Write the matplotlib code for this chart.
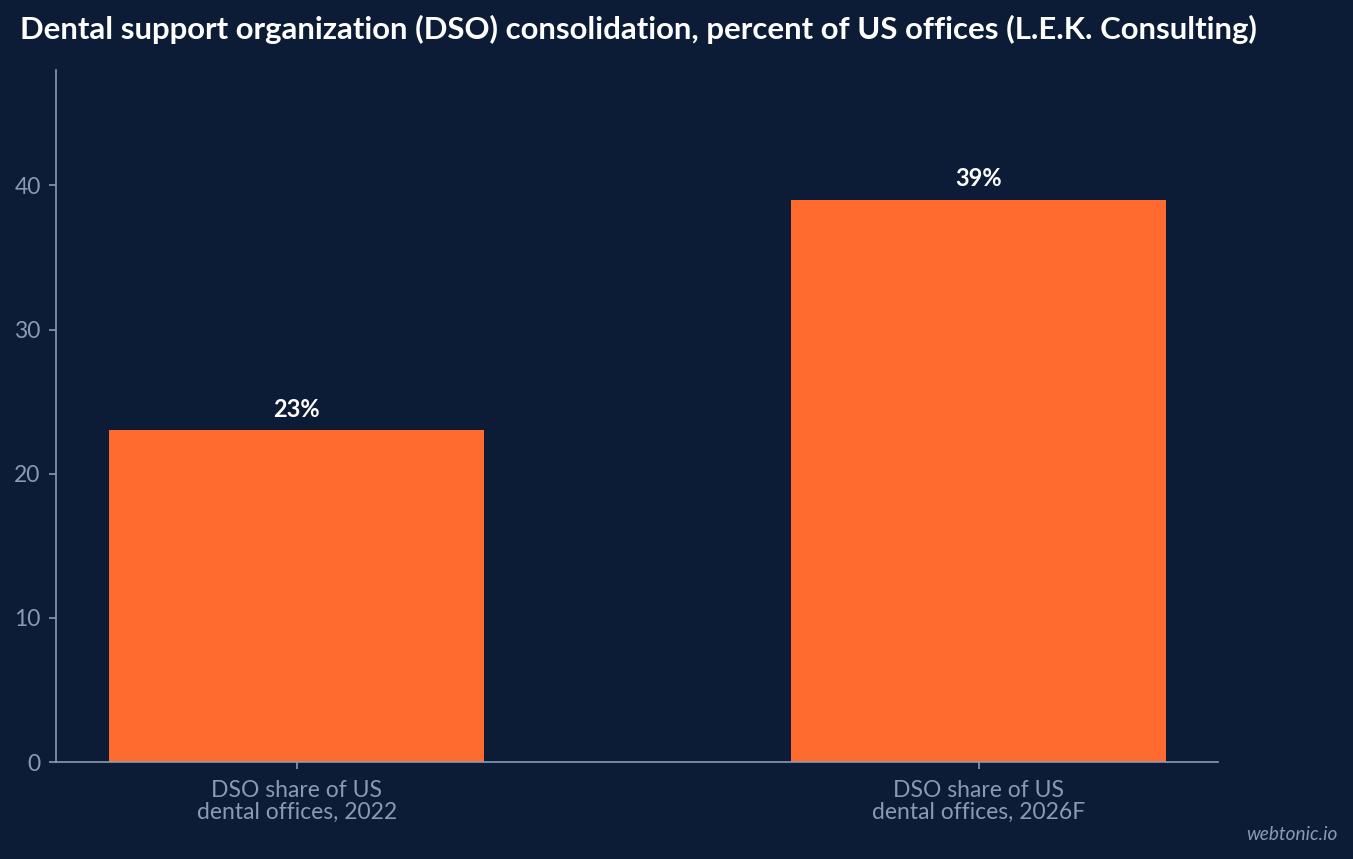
import matplotlib
matplotlib.use("Agg")
import matplotlib.pyplot as plt

categories = ["DSO share of US\ndental offices, 2022", "DSO share of US\ndental offices, 2026F"]
values = [23, 39]
value_labels = ["23%", "39%"]

bg = "#0c1c36"
bar_color = "#ff6b2f"
axis_color = "#8a9ab4"

plt.rcParams["font.family"] = ["Lato", "DejaVu Sans"]

fig = plt.figure(figsize=(13.53, 8.59), dpi=100, facecolor=bg)
ax = fig.add_axes([0.0414, 0.1129, 0.8588, 0.8056], facecolor=bg)

x = range(len(categories))
ax.bar(x, values, width=0.55, color=bar_color, zorder=2)
for xi, v, lab in zip(x, values, value_labels):
    ax.annotate(lab, (xi, v), xytext=(0, 7), textcoords="offset points",
                ha="center", va="bottom", color="white", fontsize=17, fontweight="bold")

ax.set_xlim(-0.353, 1.351)
ax.set_ylim(0, 48)
ax.set_yticks([0, 10, 20, 30, 40])
ax.set_xticks(list(x))
ax.set_xticklabels(categories, linespacing=1.05)

for s in ["top", "right"]:
    ax.spines[s].set_visible(False)
for s in ["left", "bottom"]:
    ax.spines[s].set_color(axis_color)
    ax.spines[s].set_linewidth(1.2)
ax.tick_params(colors=axis_color, labelsize=16.5, length=5, width=1.2)
ax.tick_params(axis="x", pad=8)
ax.tick_params(axis="y", pad=6)

fig.text(20 / 1353, 1 - 29 / 859, "Dental support organization (DSO) consolidation, percent of US offices (L.E.K. Consulting)",
         color="white", fontsize=22.4, fontweight="bold", ha="left", va="center")
fig.text(1338 / 1353, 1 - 834 / 859, "webtonic.io", color=axis_color, fontsize=13.7,
         style="italic", ha="right", va="center")

fig.savefig("out.png", dpi=100, facecolor=bg)
